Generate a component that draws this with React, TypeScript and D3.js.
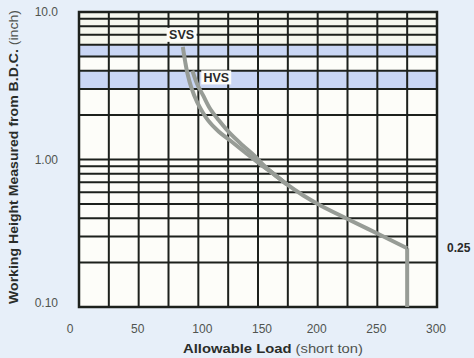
import React, { useRef, useEffect } from "react";
import * as d3 from "d3";

// load (short ton) vs working height (inch)
const svsCurve: [number, number][] = [
  [87, 5.8], [89, 4.6], [91, 3.8], [94, 3.1], [99, 2.45], [108, 1.85],
  [117, 1.55], [127, 1.34], [139, 1.12], [151, 0.94], [163, 0.8], [174, 0.68],
];
const hvsCurve: [number, number][] = [
  [95, 4.0], [99, 3.25], [104, 2.72], [110, 2.2], [117, 1.85], [126, 1.52],
  [137, 1.25], [147, 1.06], [155, 0.91], [163, 0.8], [174, 0.68],
];
const commonCurve: [number, number][] = [
  [151, 0.94], [163, 0.8], [174, 0.68], [188, 0.57], [202, 0.49], [225, 0.395], [250, 0.315], [275, 0.25],
];
const dropLine: [number, number][] = [[275, 0.25], [275, 0.1]];

const xTicks = [0, 50, 100, 150, 200, 250, 300];
const xGrid = d3.range(0, 301, 25);
const yTicks = [0.1, 1, 10];
const yTickLabels = ["0.10", "1.00", "10.0"];
const yGrid = [0.1, 0.2, 0.3, 0.4, 0.5, 0.6, 0.7, 0.8, 0.9, 1, 2, 3, 4, 5, 6, 7, 8, 9, 10];
const bands: [number, number][] = [[5, 6], [3, 4]];

export default function App() {
  const ref = useRef<SVGSVGElement>(null);

  useEffect(() => {
    const svg = d3.select(ref.current);
    svg.selectAll("*").remove();

    const width = 474;
    const height = 358;
    const margin = { top: 12, right: 37, bottom: 51, left: 79 };
    const font = "'Liberation Sans', Arial, sans-serif";

    svg.append("rect").attr("width", width).attr("height", height).attr("fill", "#e7eff9");

    const x = d3.scaleLinear().domain([0, 300]).range([margin.left, width - margin.right]);
    const y = d3.scaleLog().domain([0.1, 10]).range([height - margin.bottom, margin.top]);

    // plot background
    svg.append("rect")
      .attr("x", x(0)).attr("y", y(10))
      .attr("width", x(300) - x(0)).attr("height", y(0.1) - y(10))
      .attr("fill", "#fdfdf9");
    svg.append("rect")
      .attr("x", x(0)).attr("y", y(10))
      .attr("width", x(300) - x(0)).attr("height", y(6) - y(10))
      .attr("fill", "#f6f8ef");

    svg.selectAll("rect.band")
      .data(bands)
      .join("rect")
      .attr("class", "band")
      .attr("x", x(0))
      .attr("y", (d) => y(d[1]))
      .attr("width", x(300) - x(0))
      .attr("height", (d) => y(d[0]) - y(d[1]))
      .attr("fill", "#c9d6f4");

    // grid
    svg.append("g")
      .selectAll("line")
      .data(yGrid)
      .join("line")
      .attr("x1", x(0)).attr("x2", x(300))
      .attr("y1", (d) => y(d)).attr("y2", (d) => y(d))
      .attr("stroke", "#1d211d").attr("stroke-width", 2);

    svg.append("g")
      .selectAll("line")
      .data(xGrid)
      .join("line")
      .attr("x1", (d) => x(d)).attr("x2", (d) => x(d))
      .attr("y1", y(10)).attr("y2", y(0.1))
      .attr("stroke", "#1d211d").attr("stroke-width", 2);

    svg.append("rect")
      .attr("x", x(0)).attr("y", y(10))
      .attr("width", x(300) - x(0)).attr("height", y(0.1) - y(10))
      .attr("fill", "none").attr("stroke", "#1d211d").attr("stroke-width", 2.5);

    // curves
    const line = d3.line<[number, number]>()
      .x((d) => x(d[0]))
      .y((d) => y(d[1]))
      .curve(d3.curveCatmullRom);

    const curveStyle = (p: d3.Selection<SVGPathElement, unknown, null, undefined>) =>
      p.attr("fill", "none").attr("stroke", "#979c96").attr("stroke-width", 4)
        .attr("stroke-linecap", "butt").attr("stroke-linejoin", "round");

    [svsCurve, hvsCurve, commonCurve].forEach((c) => {
      curveStyle(svg.append("path").attr("d", line(c)));
    });
    curveStyle(svg.append("path").attr("d", d3.line<[number, number]>().x((d) => x(d[0])).y((d) => y(d[1]))(dropLine)));

    // curve labels
    const label = (text: string, cx: number, cy: number) => {
      const g = svg.append("g");
      g.append("rect")
        .attr("x", cx - 15).attr("y", cy - 7).attr("width", 30).attr("height", 14)
        .attr("fill", "#fdfdf9");
      g.append("text")
        .attr("x", cx).attr("y", cy).attr("dy", "0.36em")
        .attr("text-anchor", "middle")
        .style("font-family", font).style("font-size", "12.5px").style("font-weight", "bold")
        .attr("fill", "#2a2a2a")
        .text(text);
    };
    label("SVS", x(86), y(7));
    label("HVS", x(115), y(3.6));

    // x tick labels
    svg.append("g")
      .selectAll("text")
      .data(xTicks)
      .join("text")
      .attr("x", (d) => x(d) - (d === 0 ? 9 : d === 100 ? -4 : d === 150 ? -4 : 1))
      .attr("y", y(0.1) + 26)
      .attr("text-anchor", "middle")
      .style("font-family", font).style("font-size", "12px")
      .attr("fill", "#505450")
      .text((d) => d);

    // y tick labels
    svg.append("g")
      .selectAll("text")
      .data(yTicks)
      .join("text")
      .attr("x", x(0) - 21)
      .attr("y", (d) => (d === 0.1 ? y(d) - 4 : y(d)))
      .attr("dy", "0.35em")
      .attr("text-anchor", "end")
      .style("font-family", font).style("font-size", "12px")
      .attr("fill", "#505450")
      .text((d, i) => yTickLabels[i]);

    svg.append("text")
      .attr("x", x(300) + 10).attr("y", y(0.25) + 4)
      .style("font-family", font).style("font-size", "12px").style("font-weight", "bold")
      .attr("fill", "#2a2a2a")
      .text("0.25");

    // axis titles
    const xt = svg.append("text")
      .attr("x", 273).attr("y", height - 5)
      .attr("text-anchor", "middle")
      .attr("textLength", 180).attr("lengthAdjust", "spacingAndGlyphs")
      .style("font-family", font).style("font-size", "13.5px")
      .attr("fill", "#2a2d2a");
    xt.append("tspan").style("font-weight", "bold").text("Allowable Load");
    xt.append("tspan").attr("fill", "#505450").text(" (short ton)");

    const yt = svg.append("text")
      .attr("transform", `translate(18, 157) rotate(-90)`)
      .attr("text-anchor", "middle")
      .attr("textLength", 294).attr("lengthAdjust", "spacingAndGlyphs")
      .style("font-family", font).style("font-size", "13px")
      .attr("fill", "#2a2d2a");
    yt.append("tspan").style("font-weight", "bold").text("Working Height Measured from B.D.C.");
    yt.append("tspan").attr("fill", "#505450").text(" (inch)");
  }, []);

  return (
    <svg
      ref={ref}
      width={474}
      height={358}
      style={{ position: "absolute", left: 0, top: 0, display: "block" }}
    ></svg>
  );
}
